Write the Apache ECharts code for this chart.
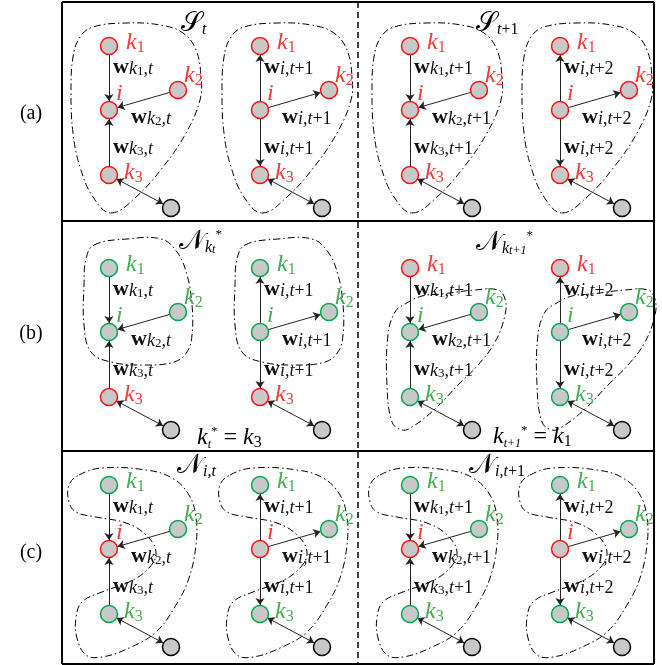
<!DOCTYPE html>
<html>
<head>
<meta charset="utf-8">
<script src="https://cdn.jsdelivr.net/npm/echarts@6/dist/echarts.min.js"></script>
<style>
html, body { margin: 0; padding: 0; background: #fff; }
#main { width: 662px; height: 665px; }
</style>
</head>
<body>
<div id="main"></div>
<script>
// panel layout: position of node k1 in each column / row
var colX = [109, 260, 410, 560]
var rowY = [46, 268, 485]
// nodes of one panel, offsets from k1
var nodeNames = ['k1', 'i', 'k2', 'k3', 'o']
var nodeDX = [0, 0, 69, 0, 62]
var nodeDY = [0, 64, 44, 129, 162]
// node colour per row / column, order k1 i k2 k3 (r = red, g = green)
var nodeColours = [
  ['rrrr', 'rrrr', 'rrrr', 'rrrr'],
  ['gggr', 'gggr', 'rggg', 'rggg'],
  ['grgg', 'grgg', 'grgg', 'grgg']
]
// weight subscripts per column, edges k1-i, k2-i, k3-i
var weightSubs = [
  ['k1,t', 'k2,t', 'k3,t'],
  ['i,t+1', 'i,t+1', 'i,t+1'],
  ['k1,t+1', 'k2,t+1', 'k3,t+1'],
  ['i,t+2', 'i,t+2', 'i,t+2']
]
var intoI = [true, false, true, false]
// which dash-dot outline each row / column gets
var blobOf = [
  [0, 0, 0, 0],
  [1, 1, 2, 2],
  [3, 3, 3, 3]
]
// outline shapes, offsets from k1
var blobs = [
  [[2, 167], [27, 151], [54, 121], [77, 87], [91, 54], [92, 31], [87, 4], [74, -13], [51, -21], [17, -23], [-16, -19], [-29, -9], [-36, 11], [-38, 47], [-36, 87], [-29, 121], [-16, 151]],
  [[-15, -23], [18, -29], [52, -29], [68, -16], [78, 7], [83, 37], [83, 67], [78, 84], [65, 94], [35, 97], [2, 94], [-18, 84], [-25, 57], [-25, 17], [-23, -9]],
  [[-5, 36], [12, 28], [32, 26], [65, 22], [88, 22], [95, 31], [95, 47], [85, 74], [68, 97], [48, 117], [25, 141], [2, 159], [-8, 162], [-18, 154], [-23, 117], [-22, 67], [-15, 44]],
  [[-30, -10], [-7, -17], [37, -15], [63, -7], [80, 10], [87, 33], [87, 60], [80, 93], [67, 120], [47, 147], [20, 163], [-7, 172], [-23, 170], [-32, 153], [-33, 133], [-27, 117], [-7, 107], [20, 97], [40, 83], [47, 67], [37, 50], [17, 38], [-13, 32], [-33, 27], [-40, 17], [-40, 0]]
]
// free text
var rowNames = ['(a)', '(b)', '(c)']
var rowNameY = [114, 334, 553]
var annoX = [181, 476, 179, 476, 177, 469, 197, 493]
var annoY = [24, 24, 242, 243, 466, 466, 438, 437]
var annoText = [
  '{cal|𝒮}{sub|t}',
  '{cal|𝒮}{sub|t}{subu|+1}',
  '{cal|𝒩}{sub|k}{ssub|t}{ssup|*}',
  '{cal|𝒩}{sub|k}{ssub|t+1}{ssup|*}',
  '{cal|𝒩}{sub|i,t}',
  '{cal|𝒩}{sub|i,t}{subu|+1}',
  '{big|k}{ssub|t}{ssup|*}{eq| = }{big|k}{subu|3}',
  '{big|k}{ssub|t+1}{ssup|*}{eq| = }{big|k}{subu|1}'
]
// frame
var frameSolid = [
  [[62, 2], [654, 2]], [[654, 2], [654, 664]], [[654, 664], [62, 664]], [[62, 664], [62, 2]],
  [[62, 221], [654, 221]], [[62, 451], [654, 451]]
]
var frameDashed = [[[358, 2], [358, 664]]]

var SERIF = 'Liberation Serif'
var RED = '#ff1010', GREEN = '#00a84f', RED_TXT = '#f23a3a', GREEN_TXT = '#45ad52'
var R = 8.5

var myChart = echarts.init(document.getElementById('main'))

function nodePos(r, c, n) {
  return [colX[c] + nodeDX[n], rowY[r] + nodeDY[n]]
}

function weightText(s) {
  var out = '{w|w}'
  for (var j = 0; j < s.length; j++) {
    var ch = s[j]
    if (/[a-z]/.test(ch)) out += '{ws|' + ch + '}'
    else if (/[0-9]/.test(ch) && s[j - 1] === 'k') out += '{wd|' + ch + '}'
    else out += '{wu|' + ch + '}'
  }
  return out
}

function nodeText(name) {
  if (name.length === 1) return '{big|' + name + '}'
  return '{big|' + name[0] + '}{subu|' + name.substr(1) + '}'
}

var rich = {
  big: { fontFamily: SERIF, fontStyle: 'italic', fontSize: 24, lineHeight: 26 },
  sub: { fontFamily: SERIF, fontStyle: 'italic', fontSize: 16, lineHeight: 15, verticalAlign: 'bottom' },
  subu: { fontFamily: SERIF, fontSize: 16, lineHeight: 15, verticalAlign: 'bottom' },
  ssub: { fontFamily: SERIF, fontStyle: 'italic', fontSize: 12, lineHeight: 11, verticalAlign: 'bottom' },
  ssup: { fontFamily: SERIF, fontSize: 13, lineHeight: 12, verticalAlign: 'top' },
  cal: { fontFamily: 'DejaVu Serif', fontSize: 27, lineHeight: 28 },
  eq: { fontFamily: SERIF, fontSize: 24, lineHeight: 26 },
  w: { fontFamily: SERIF, fontWeight: 'bold', fontSize: 22, lineHeight: 22 },
  ws: { fontFamily: SERIF, fontStyle: 'italic', fontSize: 18, lineHeight: 16, verticalAlign: 'bottom' },
  wd: { fontFamily: SERIF, fontSize: 13, lineHeight: 12, verticalAlign: 'bottom' },
  wu: { fontFamily: SERIF, fontSize: 18, lineHeight: 16, verticalAlign: 'bottom' },
  row: { fontFamily: SERIF, fontSize: 20, lineHeight: 22 }
}

// build marks
var nodeData = [], arrowEdges = [], twoWayEdges = [], blobData = [], texts = []

function shorten(a, b) {
  var dx = b[0] - a[0], dy = b[1] - a[1], d = Math.sqrt(dx * dx + dy * dy)
  var ux = dx / d, uy = dy / d
  return [[a[0] + ux * R, a[1] + uy * R], [b[0] - ux * (R + 0.5), b[1] - uy * (R + 0.5)]]
}

for (var r = 0; r < 3; r++) {
  for (var c = 0; c < 4; c++) {
    var p = []
    for (var n = 0; n < nodeNames.length; n++) {
      p.push(nodePos(r, c, n))
      var st = n < 4 ? nodeColours[r][c][n] : 'k'
      nodeData.push({
        value: p[n],
        itemStyle: { borderColor: st === 'r' ? RED : st === 'g' ? GREEN : '#000' }
      })
    }
    // edges between i and k1, k2, k3
    var others = [0, 2, 3]
    for (var e = 0; e < 3; e++) {
      var k = p[others[e]]
      arrowEdges.push({ coords: intoI[c] ? shorten(k, p[1]) : shorten(p[1], k) })
      var ws = weightSubs[c][e]
      var off = [[4, 21], [22, 71], [4, 101]][e]
      texts.push([p[0][0] + off[0], p[0][1] + off[1], weightText(ws), '#111', 'left'])
    }
    twoWayEdges.push({ coords: shorten(p[3], p[4]) })
    blobData.push([p[0][0], p[0][1], blobOf[r][c]])
    // node labels
    var labOff = [[17, -3, 'left'], [7, -16, 'left'], [6, -14, 'left'], [15, -2, 'left']]
    for (var n2 = 0; n2 < 4; n2++) {
      var col = nodeColours[r][c][n2] === 'r' ? RED_TXT : GREEN_TXT
      texts.push([p[n2][0] + labOff[n2][0], p[n2][1] + labOff[n2][1], nodeText(nodeNames[n2]), col, labOff[n2][2]])
    }
  }
  texts.push([31, rowNameY[r], '{row|' + rowNames[r] + '}', '#000', 'center'])
}
for (var a = 0; a < annoText.length; a++) {
  texts.push([annoX[a], annoY[a], annoText[a], '#000', 'left'])
}

option = {
  animation: false,
  grid: { left: 0, right: 0, top: 0, bottom: 0 },
  xAxis: { type: 'value', min: 0, max: 662, show: false },
  yAxis: { type: 'value', min: 0, max: 665, inverse: true, show: false },
  series: [
    {
      type: 'lines',
      coordinateSystem: 'cartesian2d',
      symbol: 'none',
      lineStyle: { color: '#000', width: 2, opacity: 1 },
      data: frameSolid.map(function (s) { return { coords: s } }),
      z: 1
    },
    {
      type: 'lines',
      coordinateSystem: 'cartesian2d',
      symbol: 'none',
      lineStyle: { color: '#000', width: 1.5, type: [6, 4], opacity: 1 },
      data: frameDashed.map(function (s) { return { coords: s } }),
      z: 1
    },
    {
      type: 'custom',
      coordinateSystem: 'cartesian2d',
      clip: false,
      data: blobData,
      renderItem: function (params, api) {
        var bx = api.value(0), by = api.value(1), shape = blobs[api.value(2)]
        var pts = shape.map(function (q) { return api.coord([bx + q[0], by + q[1]]) })
        return {
          type: 'polygon',
          shape: { points: pts, smooth: 0.4 },
          style: { fill: 'none', stroke: '#000', lineWidth: 1, lineDash: [7, 3, 1.5, 3] }
        }
      },
      z: 2
    },
    {
      type: 'lines',
      coordinateSystem: 'cartesian2d',
      symbol: ['none', 'arrow'],
      symbolSize: 7,
      lineStyle: { color: '#222', width: 1, opacity: 1 },
      data: arrowEdges,
      z: 3
    },
    {
      type: 'lines',
      coordinateSystem: 'cartesian2d',
      symbol: ['arrow', 'arrow'],
      symbolSize: 7,
      lineStyle: { color: '#222', width: 1, opacity: 1 },
      data: twoWayEdges,
      z: 3
    },
    {
      type: 'scatter',
      symbol: 'circle',
      symbolSize: R * 2,
      itemStyle: { color: '#c8c8c8', borderWidth: 1.5, opacity: 1 },
      data: nodeData,
      z: 4
    },
    {
      type: 'custom',
      coordinateSystem: 'cartesian2d',
      clip: false,
      data: texts.map(function (t, idx) { return [t[0], t[1], idx] }),
      renderItem: function (params, api) {
        var t = texts[api.value(2)]
        var pt = api.coord([t[0], t[1]])
        return {
          type: 'text',
          x: pt[0],
          y: pt[1],
          style: { text: t[2], rich: rich, fill: t[3], align: t[4], verticalAlign: 'middle' }
        }
      },
      z: 5
    }
  ]
}
myChart.setOption(option)
window.onresize = function () {
  myChart.resize()
}
</script>
</body>
</html>
